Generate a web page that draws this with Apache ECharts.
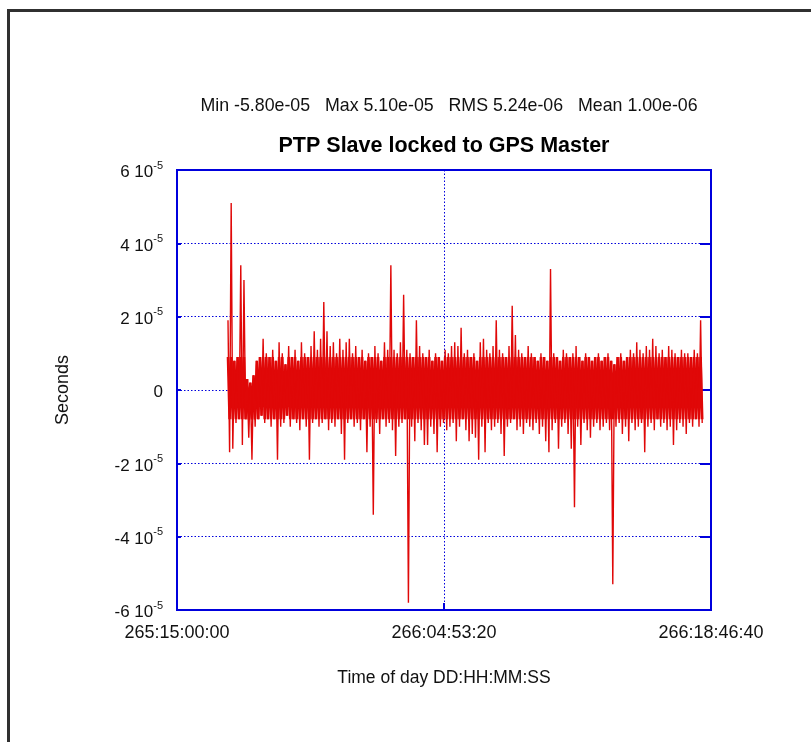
<!DOCTYPE html>
<html>
<head>
<meta charset="utf-8">
<script src="https://cdn.jsdelivr.net/npm/echarts@6/dist/echarts.min.js"></script>
<style>
html,body{margin:0;padding:0;background:#fff;}
#chart{width:811px;height:742px;}
</style>
</head>
<body>
<div id="chart"></div>
<script>
// ---- data (offsets in microseconds) ----
var titleText = 'PTP Slave locked to GPS Master';
var statsText = 'Min -5.80e-05   Max 5.10e-05   RMS 5.24e-06   Mean 1.00e-06';
var xAxisName = 'Time of day DD:HH:MM:SS';
var yAxisName = 'Seconds';

// time in seconds after 265:15:00:00
var xTickValues = [0, 50000, 100000];
var xTickLabels = ['265:15:00:00', '266:04:53:20', '266:18:46:40'];
var yTickValues = [-60, -40, -20, 0, 20, 40, 60];
var yTickMantissa = ['-6 10', '-4 10', '-2 10', '0', '2 10', '4 10', '6 10'];
var yTickExponent = ['-5', '-5', '-5', '', '-5', '-5', '-5'];

var sampleStart = 9550;   // first sample time (s)
var sampleStep = 299;     // seconds between samples

// successive peaks (positive swings) of the offset, microseconds
var peakHigh = [
 19,51,8,9,34,30,3,2,4,8, 9,14,10,9,11,8,13,10,7,12,
 9,11,8,13,10,9,12,16,11,14, 24,16,12,13,10,14,11,13,14,10,
 12,9,11,8,10,9,12,10,8,13, 11,34,11,10,13,26,11,10,9,19,
 12,10,9,11,8,10,9,8,11,10, 12,13,12,17,10,11,9,10,8,13,
 14,11,10,12,19,11,10,9,12,23, 15,11,10,9,12,10,9,8,10,9,
 8,33,10,9,8,11,10,9,10,12, 9,8,10,9,8,9,10,8,9,10,
 8,7,9,10,8,9,11,10,13,11, 10,12,11,14,12,10,11,9,12,11,
 10,9,11,10,10,9,11,10,19
];
// successive troughs (negative swings) of the offset, microseconds
var peakLow = [
 -17,-16,-9,-8,-15,-8,-13,-19,-10,-8, -7,-9,-8,-10,-8,-19,-10,-9,-7,-10,
 -8,-9,-11,-8,-10,-19,-9,-8,-10,-9, -8,-11,-9,-10,-8,-12,-19,-9,-8,-10,
 -9,-11,-8,-17,-10,-34,-9,-12,-8,-10, -9,-11,-18,-10,-9,-8,-58,-10,-14,-9,
 -11,-15,-15,-10,-12,-17,-10,-9,-11,-10, -9,-14,-10,-8,-11,-14,-12,-13,-19,-10,
 -17,-9,-11,-10,-9,-12,-18,-10,-9,-8, -11,-10,-12,-9,-10,-11,-9,-12,-10,-14,
 -17,-11,-9,-16,-10,-9,-12,-16,-32,-10, -15,-9,-11,-13,-10,-9,-11,-10,-9,-11,
 -53,-10,-9,-12,-10,-14,-9,-11,-10,-9, -17,-10,-9,-11,-8,-10,-9,-11,-10,-15,
 -11,-9,-10,-12,-9,-10,-8,-10,-9
];

// range where the trace is so dense it renders as a solid band (microseconds)
var denseCoreHigh = 9;
var denseCoreLow = -8;

// ---- build series ----
var seriesData = [];
var coreData = [];
for (var k = 0; k < peakHigh.length; k++) {
  var t1 = sampleStart + (2 * k) * sampleStep;
  var t2 = sampleStart + (2 * k + 1) * sampleStep;
  seriesData.push([t1, peakHigh[k]]);
  seriesData.push([t2, peakLow[k]]);
  coreData.push([t1, Math.min(peakHigh[k], denseCoreHigh)]);
  coreData.push([t2, Math.max(peakLow[k], denseCoreLow)]);
}

var BLUE = '#0000dd';
var RED = '#e00808';
var FONT = 'Liberation Sans, Arial, sans-serif';

var chart = echarts.init(document.getElementById('chart'), null, {renderer: 'canvas'});
chart.setOption({
  animation: false,
  backgroundColor: '#ffffff',
  graphic: [{
    type: 'rect',
    shape: {x: 8.5, y: 10.5, width: 1000, height: 1000},
    style: {fill: 'none', stroke: '#303030', lineWidth: 3},
    silent: true
  }],
  title: [{
    text: statsText,
    left: 444, top: 92, textAlign: 'center',
    textStyle: {fontFamily: FONT, fontSize: 17.8, fontWeight: 'normal', color: '#111'}
  }, {
    text: titleText,
    left: 439, top: 130, textAlign: 'center',
    textStyle: {fontFamily: FONT, fontSize: 21.5, fontWeight: 'bold', color: '#000'}
  }],
  grid: {left: 177, right: 100, top: 170, bottom: 132, show: true,
         borderColor: BLUE, borderWidth: 2, backgroundColor: 'transparent'},
  xAxis: [{
    type: 'value', min: 0, max: 100000, interval: 50000,
    name: xAxisName, nameLocation: 'middle', nameGap: 59,
    nameTextStyle: {fontFamily: FONT, fontSize: 17.5, color: '#111'},
    axisLine: {show: true, onZero: false, lineStyle: {color: BLUE, width: 2}},
    axisTick: {show: true, inside: true, length: 7, lineStyle: {color: BLUE, width: 2}},
    axisLabel: {
      margin: 14, fontFamily: FONT, fontSize: 18, color: '#111',
      showMinLabel: true, showMaxLabel: true,
      formatter: function (v) {
        var i = xTickValues.indexOf(v);
        return i >= 0 ? xTickLabels[i] : '';
      }
    },
    splitLine: {show: true, lineStyle: {color: BLUE, type: [1.5, 2], width: 1}}
  }],
  yAxis: [{
    type: 'value', min: -60, max: 60, interval: 20,
    name: yAxisName, nameLocation: 'middle', nameGap: 105, nameRotate: 90,
    nameTextStyle: {fontFamily: FONT, fontSize: 18, color: '#111'},
    axisLine: {show: true, onZero: false, lineStyle: {color: BLUE, width: 2}},
    axisTick: {show: true, inside: true, length: 4, lineStyle: {color: BLUE, width: 2}},
    axisLabel: {
      margin: 14, fontFamily: FONT, color: '#111',
      formatter: function (v) {
        var i = yTickValues.indexOf(v);
        if (i < 0) return '';
        return yTickExponent[i] ? '{m|' + yTickMantissa[i] + '}{s|' + yTickExponent[i] + '}' : '{m|' + yTickMantissa[i] + '}';
      },
      rich: {
        m: {fontFamily: FONT, fontSize: 17, color: '#111', verticalAlign: 'bottom', lineHeight: 22},
        s: {fontFamily: FONT, fontSize: 11, color: '#111', verticalAlign: 'bottom', lineHeight: 22, padding: [0, 0, 10, 0]}
      }
    },
    splitLine: {show: true, lineStyle: {color: BLUE, type: [1.5, 2], width: 1}}
  }, {
    type: 'value', min: -60, max: 60, interval: 20, position: 'right',
    axisLine: {show: true, onZero: false, lineStyle: {color: BLUE, width: 2}},
    axisTick: {show: true, inside: true, length: 11, lineStyle: {color: BLUE, width: 2}},
    axisLabel: {show: false},
    splitLine: {show: false}
  }],
  series: [{
    type: 'line',
    data: coreData,
    showSymbol: false,
    symbol: 'none',
    lineStyle: {color: RED, width: 2.6, join: 'bevel'},
    silent: true,
    z: 2
  }, {
    type: 'line',
    data: seriesData,
    showSymbol: false,
    symbol: 'none',
    lineStyle: {color: RED, width: 1.4, join: 'bevel'},
    z: 3
  }]
});
</script>
</body>
</html>
